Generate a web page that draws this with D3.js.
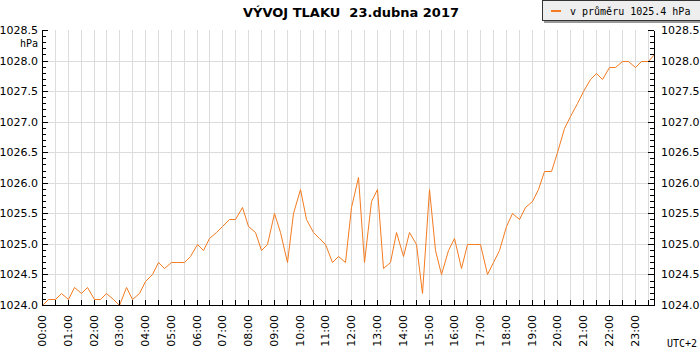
<!DOCTYPE html>
<html><head><meta charset="utf-8">
<script src="https://cdn.jsdelivr.net/npm/d3@7"></script>
<style>body{margin:0;background:#fff;} svg{display:block;}</style>
</head><body><svg id="c" width="700" height="350"></svg>
<script>
const titleText = "VÝVOJ TLAKU  23.dubna 2017";
const legendText = "v průměru 1025.4 hPa";
const unitText = "hPa";
const tzText = "UTC+2";
// pressure every 15 minutes, 00:00 .. 23:45 (hPa)
const pressure = [
  1024.0,1024.1,1024.1,1024.2,1024.1,1024.3,1024.2,1024.3,1024.1,1024.1,1024.2,1024.1,
  1024.0,1024.3,1024.1,1024.2,1024.4,1024.5,1024.7,1024.6,1024.7,1024.7,1024.7,1024.8,
  1025.0,1024.9,1025.1,1025.2,1025.3,1025.4,1025.4,1025.6,1025.3,1025.2,1024.9,1025.0,
  1025.5,1025.2,1024.7,1025.5,1025.9,1025.4,1025.2,1025.1,1025.0,1024.7,1024.8,1024.7,
  1025.6,1026.1,1024.7,1025.7,1025.9,1024.6,1024.7,1025.2,1024.8,1025.2,1025.0,1024.2,
  1025.9,1024.9,1024.5,1024.9,1025.1,1024.6,1025.0,1025.0,1025.0,1024.5,1024.7,1024.9,
  1025.3,1025.5,1025.4,1025.6,1025.7,1025.9,1026.2,1026.2,1026.5,1026.9,1027.1,1027.3,
  1027.5,1027.7,1027.8,1027.7,1027.9,1027.9,1028.0,1028.0,1027.9,1028.0,1028.0,1028.1
];
const stepMinutes = 15;
const hourLabels = ["00:00","01:00","02:00","03:00","04:00","05:00","06:00","07:00","08:00","09:00","10:00","11:00",
  "12:00","13:00","14:00","15:00","16:00","17:00","18:00","19:00","20:00","21:00","22:00","23:00"];
const yMajor = [1024.0,1024.5,1025.0,1025.5,1026.0,1026.5,1027.0,1027.5,1028.0,1028.5];

const svg = d3.select("#c");
const L = 42, R = 654, T = 30, B = 305;
const x = d3.scaleLinear().domain([0, (pressure.length - 1) * stepMinutes]).range([L, R]);
const y = d3.scaleLinear().domain([1024, 1028.5]).range([B, T]);
const lineColor = "#f47b20";
const gridColor = "#dcdcdc";
const sans = "'DejaVu Sans', Verdana, sans-serif";
const mono = "'DejaVu Sans Mono', monospace";

// minor values
const yMinor = d3.range(0, 46).map(i => +(1024 + i * 0.1).toFixed(1));
const halfHours = d3.range(0, 48).map(i => i * 30).filter(m => m <= x.domain()[1]);

// grid
const grid = svg.append("g").attr("shape-rendering", "crispEdges");
grid.selectAll(".vg").data(halfHours.filter(m => m > 0)).join("line")
  .attr("x1", d => Math.round(x(d)) + 0.5).attr("x2", d => Math.round(x(d)) + 0.5)
  .attr("y1", T).attr("y2", B).attr("stroke", gridColor);
grid.selectAll(".hg").data(yMajor.filter(v => v > 1024 && v < 1028.5)).join("line")
  .attr("y1", d => Math.round(y(d)) + 0.5).attr("y2", d => Math.round(y(d)) + 0.5)
  .attr("x1", L).attr("x2", R).attr("stroke", gridColor);

// data line
const line = d3.line()
  .x((d, i) => Math.round(x(i * stepMinutes)) + 0.5)
  .y(d => Math.round(y(d)) + 0.5);
svg.append("path").datum(pressure)
  .attr("d", line).attr("fill", "none").attr("stroke", lineColor).attr("stroke-width", 1);

// axes
function styleAxis(g) {
  g.selectAll("path,line").attr("stroke", "#000").attr("shape-rendering", "crispEdges");
  g.selectAll("text").attr("fill", "#000").attr("font-family", sans).attr("font-size", "11px");
}
// left
svg.append("g").attr("transform", `translate(${L},0)`)
  .call(d3.axisLeft(y).tickValues(yMinor.filter(v => !yMajor.includes(v))).tickSizeInner(-4).tickSizeOuter(0).tickFormat(""))
  .call(styleAxis);
svg.append("g").attr("transform", `translate(${L},0)`)
  .call(d3.axisLeft(y).tickValues(yMajor).tickSizeInner(-6).tickSizeOuter(0).tickPadding(4).tickFormat(d3.format(".1f")))
  .call(styleAxis);
// right
svg.append("g").attr("transform", `translate(${R},0)`)
  .call(d3.axisRight(y).tickValues(yMinor.filter(v => !yMajor.includes(v))).tickSizeInner(-4).tickSizeOuter(0).tickFormat(""))
  .call(styleAxis);
svg.append("g").attr("transform", `translate(${R},0)`)
  .call(d3.axisRight(y).tickValues(yMajor).tickSizeInner(-6).tickSizeOuter(0).tickPadding(7).tickFormat(d3.format(".1f")))
  .call(styleAxis);
// bottom
svg.append("g").attr("transform", `translate(0,${B})`)
  .call(d3.axisBottom(x).tickValues(halfHours).tickSizeInner(-5).tickSizeOuter(0).tickFormat(""))
  .call(styleAxis);
svg.append("g").selectAll("text").data(hourLabels).join("text")
  .attr("transform", (d, i) => `translate(${Math.round(x(i * 60)) + 0.5},315) rotate(-90)`)
  .attr("text-anchor", "end").attr("dy", "0.35em")
  .attr("font-family", sans).attr("font-size", "11px").attr("fill", "#000")
  .text(d => d);

// unit & timezone
svg.append("text").attr("x", 38).attr("y", 47).attr("text-anchor", "end")
  .attr("font-family", mono).attr("font-size", "10px").text(unitText);
svg.append("text").attr("x", 667).attr("y", 347)
  .attr("font-family", mono).attr("font-size", "10px").text(tzText);

// title
svg.append("text").attr("x", 351).attr("y", 17).attr("text-anchor", "middle")
  .attr("font-family", sans).attr("font-weight", "bold").attr("font-size", "13px")
  .attr("xml:space", "preserve").style("white-space", "pre").text(titleText);

// legend
const lg = svg.append("g").attr("shape-rendering", "crispEdges");
lg.append("rect").attr("x", 544).attr("y", 2).attr("width", 160).attr("height", 21).attr("fill", "#9a9a9a");
lg.append("rect").attr("x", 542.5).attr("y", 0.5).attr("width", 160).attr("height", 20).attr("fill", "#eeeeee").attr("stroke", "#333");
lg.append("line").attr("x1", 551).attr("x2", 561).attr("y1", 11).attr("y2", 11)
  .attr("stroke", lineColor).attr("stroke-width", 2);
lg.append("text").attr("x", 570).attr("y", 15).attr("font-family", mono).attr("font-size", "10px")
  .attr("fill", "#000").text(legendText);
</script></body></html>
